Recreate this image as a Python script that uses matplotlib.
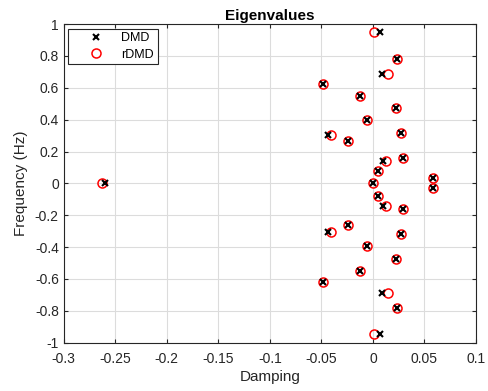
import numpy as np
import matplotlib.pyplot as plt

plt.rcParams['font.family'] = ['Liberation Sans', 'DejaVu Sans']

# eigenvalues, upper half (conjugates mirrored below)
freq = [0.947, 0.783, 0.686, 0.622, 0.551, 0.472, 0.396, 0.319, 0.306, 0.264,
        0.159, 0.143, 0.079, 0.032]
damp_dmd = [0.0071, 0.0236, 0.0090, -0.0488, -0.0123, 0.0223, -0.0055, 0.0269,
            -0.0434, -0.0242, 0.0296, 0.0094, 0.0046, 0.0582]
damp_rdmd = [0.0010, 0.0236, 0.0146, -0.0488, -0.0123, 0.0223, -0.0055, 0.0269,
             -0.0410, -0.0242, 0.0296, 0.0126, 0.0046, 0.0582]
# real eigenvalues
real_dmd = [0.0, -0.260]
real_rdmd = [0.0, -0.263]

f = np.array(freq)
x_dmd = np.concatenate([damp_dmd, damp_dmd, real_dmd])
x_rdmd = np.concatenate([damp_rdmd, damp_rdmd, real_rdmd])
y_all = np.concatenate([f, -f, np.zeros(len(real_dmd))])

fig = plt.figure(figsize=(4.88, 3.91), dpi=100)
ax = fig.add_axes([0.1305, 0.1235, 0.845, 0.815])

ax.plot(x_dmd, y_all, 'x', color='black', markersize=4.5, markeredgewidth=1.5,
        label='DMD', zorder=3)
ax.plot(x_rdmd, y_all, 'o', color='red', markerfacecolor='none', markersize=6.5,
        markeredgewidth=1.1, label='rDMD', zorder=2)

ax.set_xlim(-0.3, 0.1)
ax.set_ylim(-1, 1)
ax.set_xticks(np.arange(-0.3, 0.101, 0.05))
ax.set_xticklabels(['-0.3', '-0.25', '-0.2', '-0.15', '-0.1', '-0.05', '0', '0.05', '0.1'])
ax.set_yticks(np.arange(-1, 1.01, 0.2))
ax.set_yticklabels(['-1', '-0.8', '-0.6', '-0.4', '-0.2', '0', '0.2', '0.4', '0.6', '0.8', '1'])

ax.grid(True, color='#dcdcdc', linewidth=0.8)
ax.set_axisbelow(True)
ax.tick_params(direction='in', top=True, right=True, labelsize=10, length=3,
               color='#262626', labelcolor='#262626')
ax.tick_params(axis='x', pad=6.5)
for s in ax.spines.values():
    s.set_color('#262626')
    s.set_linewidth(0.8)

ax.set_xlabel('Damping', fontsize=11, color='#262626', labelpad=3)
ax.set_ylabel('Frequency (Hz)', fontsize=11, color='#262626', labelpad=5)
ax.set_title('Eigenvalues', fontsize=11, fontweight='bold', pad=3)

leg = ax.legend(loc='upper left', fontsize=9, fancybox=False, framealpha=1,
                edgecolor='#262626', borderaxespad=0.37, handlelength=3.8,
                handletextpad=0.15, borderpad=0.3, labelspacing=0.34)
leg.get_frame().set_linewidth(0.8)

plt.savefig('out.png', dpi=100)
